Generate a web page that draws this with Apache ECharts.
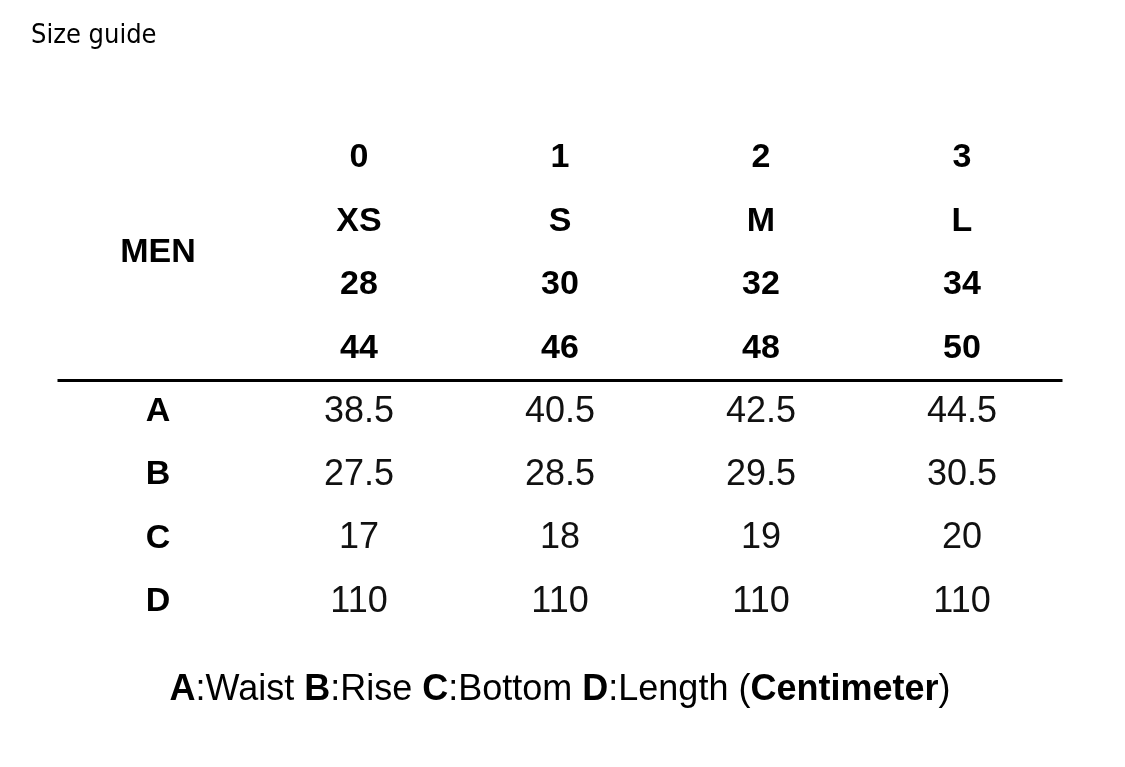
<!DOCTYPE html>
<html>
<head>
<meta charset="utf-8">
<script src="https://cdn.jsdelivr.net/npm/echarts@6/dist/echarts.min.js"></script>
<style>html,body{margin:0;background:#fff}#chart{width:1125px;height:767px}</style>
</head>
<body>
<div id="chart"></div>
<script>
var sizes = ["0", "1", "2", "3"];
var letters = ["XS", "S", "M", "L"];
var usSizes = ["28", "30", "32", "34"];
var euSizes = ["44", "46", "48", "50"];
var measures = ["A", "B", "C", "D"];
var waist = ["38.5", "40.5", "42.5", "44.5"];
var rise = ["27.5", "28.5", "29.5", "30.5"];
var bottom = ["17", "18", "19", "20"];
var length = ["110", "110", "110", "110"];

var headerRows = [sizes, letters, usSizes, euSizes];
var bodyRows = [waist, rise, bottom, length];

var headerData = [];
headerRows.forEach(function (row, r) {
  row.forEach(function (t, c) { headerData.push({ value: [c + 1, r], txt: t }); });
});
headerData.push({ value: [0, 1.5], txt: "MEN" });
measures.forEach(function (m, r) { headerData.push({ value: [0, r + 4], txt: m }); });

var bodyData = [];
bodyRows.forEach(function (row, r) {
  row.forEach(function (t, c) { bodyData.push({ value: [c + 1, r + 4], txt: t }); });
});

var font = "Liberation Sans";
var myChart = echarts.init(document.getElementById("chart"));
myChart.setOption({
  animation: false,
  title: {
    text: "Size guide", left: 26, top: 17,
    textStyle: { fontFamily: "DejaVu Sans Condensed", fontWeight: "normal", fontSize: 27, color: "#000" }
  },
  grid: { left: 57.5, width: 1005, top: 126.3, height: 570.6 },
  xAxis: { type: "value", min: -0.5, max: 4.5, show: false },
  yAxis: { type: "value", min: -0.5, max: 8.5, inverse: true, show: false },
  series: [
    {
      type: "scatter", symbolSize: 0, data: headerData, itemStyle: { opacity: 1 },
      label: {
        show: true, position: "inside", formatter: function (p) { return p.data.txt; },
        fontFamily: font, fontWeight: "bold", fontSize: 34, color: "#000"
      },
      markLine: {
        symbol: "none", silent: true, label: { show: false },
        lineStyle: { color: "#000", width: 3, type: "solid", opacity: 1 },
        data: [[{ coord: [-0.5, 3.5] }, { coord: [4.5, 3.5] }]]
      }
    },
    {
      type: "scatter", symbolSize: 0, data: bodyData, itemStyle: { opacity: 1 },
      label: {
        show: true, position: "inside", formatter: function (p) { return p.data.txt; },
        fontFamily: font, fontSize: 36, color: "#111"
      }
    },
    {
      type: "scatter", symbolSize: 0, itemStyle: { opacity: 1 },
      data: [{ value: [2, 8.39] }],
      label: {
        show: true, position: "inside",
        formatter: "{b|A}:Waist {b|B}:Rise {b|C}:Bottom {b|D}:Length ({b|Centimeter})",
        fontFamily: font, fontSize: 36, color: "#000",
        rich: { b: { fontFamily: font, fontWeight: "bold", fontSize: 36, color: "#000" } }
      }
    }
  ]
});
</script>
</body>
</html>
